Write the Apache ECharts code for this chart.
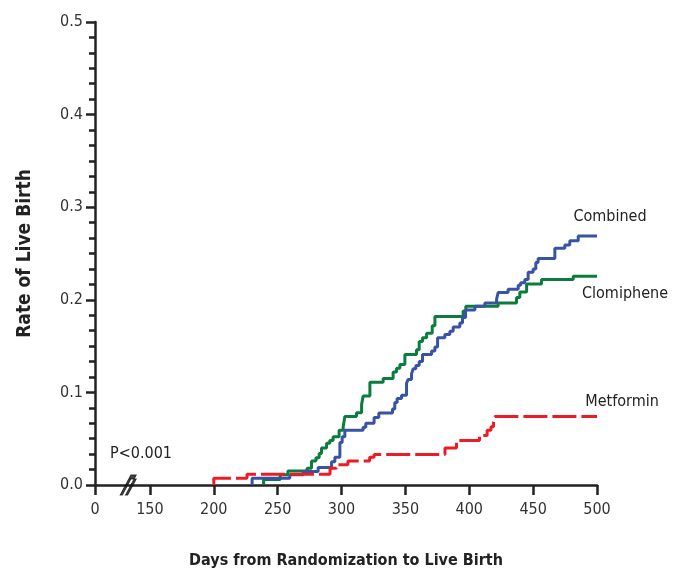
<!DOCTYPE html>
<html>
<head>
<meta charset="utf-8">
<script src="https://cdn.jsdelivr.net/npm/echarts@6/dist/echarts.min.js"></script>
<style>
html,body{margin:0;padding:0;background:#fff;}
#chart{width:681px;height:574px;}
</style>
</head>
<body>
<div id="chart"></div>
<script>
// ---- Data ----
var xTickValues = [0, 150, 200, 250, 300, 350, 400, 450, 500];
var xTickLabels = ['0', '150', '200', '250', '300', '350', '400', '450', '500'];
var yTickLabels = ['0.0', '0.1', '0.2', '0.3', '0.4', '0.5'];

var combinedDays = [230, 230, 259.5, 270, 281.7, 292.2, 294.8, 298.7, 300.5, 302.6, 316.9, 319, 325.5, 329.2, 339.9, 341.7, 343.5, 347, 350.9, 352.2, 354.8, 356.1, 358.2, 360.8, 363.4, 370.5, 373.1, 375.2, 380.9, 384.8, 387.4, 392.6, 394.7, 397.1, 404.4, 412.2, 421.4, 422.6, 430.4, 438.3, 440.2, 443.5, 446.1, 450, 452.1, 453.9, 467, 474.8, 478.7, 485.3, 500];
var combinedRate = [0, 0.0074, 0.011, 0.0146, 0.019, 0.025, 0.030, 0.046, 0.052, 0.059, 0.0624, 0.0667, 0.073, 0.0777, 0.082, 0.089, 0.0933, 0.0968, 0.110, 0.114, 0.120, 0.1255, 0.129, 0.1333, 0.141, 0.1447, 0.149, 0.159, 0.1624, 0.166, 0.1705, 0.175, 0.181, 0.189, 0.193, 0.1965, 0.2007, 0.2078, 0.2113, 0.2156, 0.2184, 0.222, 0.2298, 0.2333, 0.2404, 0.2447, 0.2557, 0.2593, 0.2638, 0.2688, 0.2688];

var clomipheneDays = [239, 239, 252, 258, 273, 276.5, 280, 282.5, 284.3, 288.3, 290.8, 293.4, 298.1, 301.3, 302.6, 311.7, 315.7, 316.9, 322.2, 332.6, 340.4, 343.1, 345.7, 349.6, 358.7, 360.8, 363.4, 366.6, 371, 373.1, 395.2, 397.3, 422.6, 437, 439.6, 444.9, 456.6, 481.4, 500];
var clomipheneRate = [0, 0.006, 0.011, 0.015, 0.018, 0.026, 0.0295, 0.034, 0.040, 0.045, 0.048, 0.052, 0.059, 0.063, 0.074, 0.078, 0.087, 0.096, 0.111, 0.115, 0.122, 0.126, 0.130, 0.141, 0.146, 0.155, 0.159, 0.164, 0.172, 0.182, 0.188, 0.193, 0.1965, 0.2025, 0.2085, 0.217, 0.222, 0.2255, 0.2255];

var metforminDays = [200, 200, 226, 291, 296, 305, 322, 325.5, 381, 390, 408, 414, 417, 419, 420, 500];
var metforminRate = [0, 0.0074, 0.0117, 0.018, 0.022, 0.026, 0.030, 0.033, 0.040, 0.048, 0.0535, 0.059, 0.063, 0.068, 0.074, 0.074];

var pValueText = 'P<0.001';

// ---- Layout constants ----
var axisStart = 107;   // axis position where "0" is drawn (broken axis)
var breakAt = 133;     // position of break mark

function pairs(xs, ys) { return xs.map(function (x, i) { return [x, ys[i]]; }); }
function mapTick(v) { return v === 0 ? axisStart : v; }

var font = '"Liberation Sans Narrow", "DejaVu Sans Condensed", "Noto Sans", sans-serif';
var lastIdx = function (a) { return a[a.length - 1]; };

var chart = echarts.init(document.getElementById('chart'), null, {renderer: 'canvas'});

function endLabel(name, x, y, off) {
  return {
    symbol: 'circle', symbolSize: 0,
    itemStyle: {color: 'rgba(0,0,0,0)'},
    label: {show: true, position: 'inside', formatter: name, color: '#222', fontFamily: font, fontSize: 16, offset: off},
    data: [{coord: [x, y]}]
  };
}

var option = {
  animation: false,
  backgroundColor: '#fff',
  grid: {left: 95, right: 84, top: 22, bottom: 82},
  xAxis: {
    type: 'value', min: axisStart, max: 500,
    name: 'Days from Randomization to Live Birth',
    nameLocation: 'middle', nameGap: 68,
    nameTextStyle: {fontFamily: font, fontSize: 16, fontWeight: 'bold', color: '#222'},
    axisLine: {show: true, onZero: false, lineStyle: {color: '#222', width: 2.5}},
    axisTick: {show: true, length: 10, lineStyle: {color: '#222', width: 2.5}, customValues: xTickValues.map(mapTick)},
    axisLabel: {
      show: true, margin: 17, fontFamily: font, fontSize: 16, color: '#333',
      customValues: xTickValues.map(mapTick),
      formatter: function (v) {
        for (var i = 0; i < xTickValues.length; i++) { if (mapTick(xTickValues[i]) === v) return xTickLabels[i]; }
        return '';
      }
    },
    splitLine: {show: false}
  },
  yAxis: {
    type: 'value', min: 0, max: 0.5, interval: 0.1,
    name: 'Rate of Live Birth',
    nameLocation: 'middle', nameGap: 60, nameRotate: 90,
    nameTextStyle: {fontFamily: font, fontSize: 19, fontWeight: 'bold', color: '#222'},
    axisLine: {show: true, lineStyle: {color: '#222', width: 2.5}},
    axisTick: {show: true, length: 9, lineStyle: {color: '#222', width: 2.5}},
    minorTick: {show: true, splitNumber: 6, length: 6, lineStyle: {color: '#222', width: 2.5}},
    axisLabel: {
      margin: 12, fontFamily: font, fontSize: 16, color: '#333',
      formatter: function (v) { return yTickLabels[Math.round(v * 10)]; }
    },
    splitLine: {show: false}
  },
  series: [
    {
      name: 'Clomiphene', type: 'line', step: 'end', showSymbol: false, symbol: 'none',
      data: pairs(clomipheneDays, clomipheneRate),
      lineStyle: {color: '#0b7c3d', width: 3},
      markPoint: endLabel('Clomiphene', 500, lastIdx(clomipheneRate), [28, 18])
    },
    {
      name: 'Combined', type: 'line', step: 'end', showSymbol: false, symbol: 'none',
      data: pairs(combinedDays, combinedRate),
      lineStyle: {color: '#3853a4', width: 3},
      markPoint: endLabel('Combined', 500, lastIdx(combinedRate), [13, -19])
    },
    {
      name: 'Metformin', type: 'line', step: 'end', showSymbol: false, symbol: 'none',
      data: pairs(metforminDays, metforminRate),
      lineStyle: {color: '#ec1c24', width: 3, type: [24, 5]},
      markPoint: endLabel('Metformin', 500, lastIdx(metforminRate), [25, -15])
    },
    {
      name: 'break', type: 'scatter', silent: true, clip: false, z: 10,
      data: [[breakAt, 0]],
      symbol: 'path://M0,20 L8,4 L10,4 L2,20 Z M5,20 L13,4 L15,4 L7,20 Z M8,4 L10,0 L15,0 L13,4 Z',
      symbolSize: [16, 20],
      itemStyle: {color: '#111', borderColor: '#111', borderWidth: 1}
    }
  ],
  graphic: [
    {type: 'text', left: 110, top: 446, style: {text: pValueText, fontFamily: font, fontSize: 16, fill: '#222'}}
  ]
};
chart.setOption(option);
</script>
</body>
</html>
